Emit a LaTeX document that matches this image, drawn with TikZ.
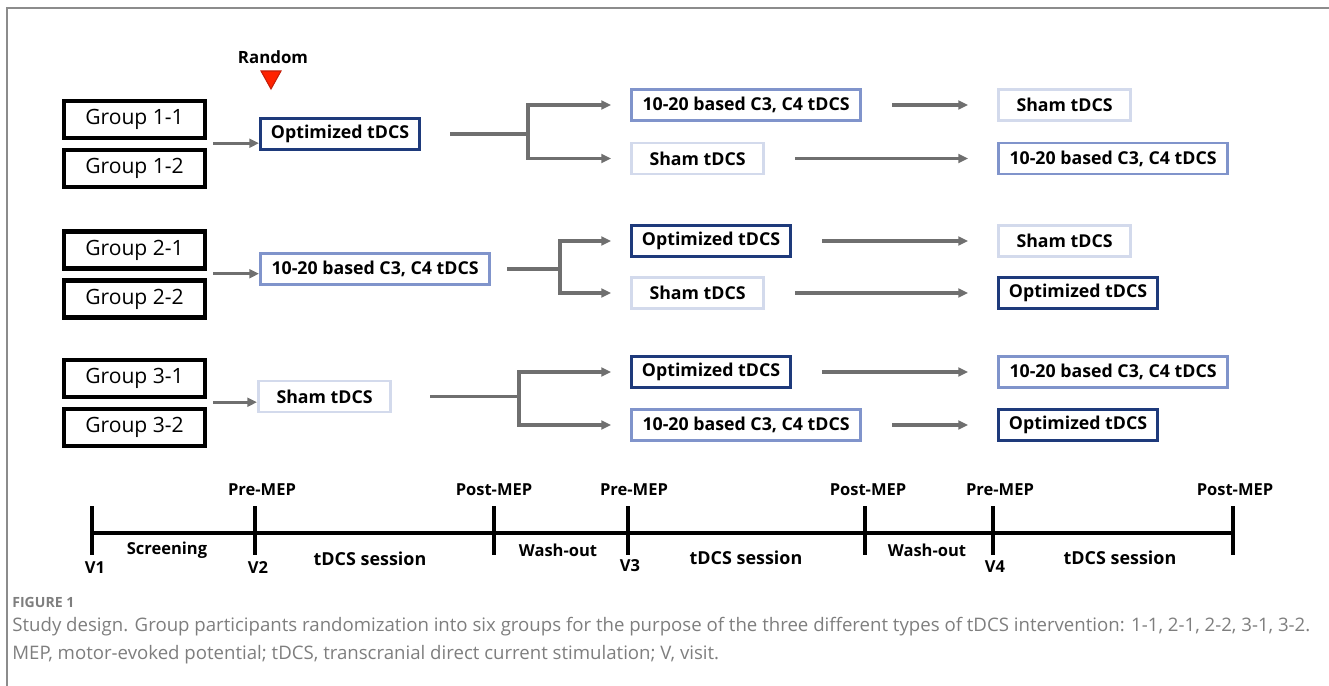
\documentclass[tikz,border=0pt]{standalone}
\usepackage{fontspec}
\setmainfont{Open Sans}
\newfontfamily\capfont{Open Sans}
\definecolor{sdNavy}{HTML}{1E3A7B}
\definecolor{sdMid}{HTML}{8094CB}
\definecolor{sdLight}{HTML}{D3DAEC}
\definecolor{sdArrow}{HTML}{6F6F6F}
\definecolor{sdFrame}{HTML}{8C8C8C}
\definecolor{sdCap}{HTML}{7E7E7E}
\definecolor{sdRed}{HTML}{FF2200}
\definecolor{sdRedDark}{HTML}{C41E0A}
\usetikzlibrary{calc,positioning,arrows.meta}

\begin{document}
\begin{tikzpicture}[x=0.02cm, y=-0.02cm,
  grp/.style={draw=black, line width=2.4pt, minimum width=2.82cm,
    minimum height=0.74cm, inner sep=0pt, font=\fontsize{12}{14}\selectfont},
  arm/.style={fill=white, line width=1.5pt, minimum height=0.62cm, inner sep=0pt,
    font=\fontsize{10.1}{12}\selectfont\bfseries},
  opt/.style={arm, draw=sdNavy, minimum width=3.19cm},
  ten/.style={arm, draw=sdMid, minimum width=4.59cm},
  sham/.style={arm, draw=sdLight, minimum width=2.65cm},
  ln/.style={line width=1.8pt, color=sdArrow},
  arr/.style={ln, -{Triangle[length=5.5pt,width=5pt]}},
  tl/.style={line width=1.8pt, color=black},
  tlbl/.style={font=\fontsize{9.4}{11}\selectfont\bfseries},
  seg/.style={font=\fontsize{10.2}{12}\selectfont\bfseries}
]
  \useasboundingbox (0,0) rectangle (1329,686);
  % Frame
  \draw[sdFrame, line width=1.1pt] (7,686) -- (7,8) -- (1329,8);
  % Randomisation mark
  \node[font=\fontsize{9.6}{12}\selectfont\bfseries] (rnd) at (273,57) {Random};
  \draw[fill=sdRed, draw=sdRedDark, line width=0.6pt] (261,71) -- (281,71) -- (271,89) -- cycle;
  % Groups
  \node[grp] (g11) at (134.5,119.5) {Group 1-1};
  \node[grp] (g12) at (134.5,168.5) {Group 1-2};
  \node[grp] (g21) at (134.5,250)   {Group 2-1};
  \node[grp] (g22) at (134.5,299)   {Group 2-2};
  \node[grp] (g31) at (134.5,378.5) {Group 3-1};
  \node[grp] (g32) at (134.5,427.5) {Group 3-2};
  % First session
  \node[opt,  anchor=west] (b1) at (259,134)   {Optimized tDCS};
  \node[ten,  anchor=west] (b2) at (259,269)   {10-20 based C3, C4 tDCS};
  \node[sham, anchor=west] (b3) at (257,396.5) {Sham tDCS};
  % Second session
  \node[ten,  anchor=west] (c1a) at (630,105)   {10-20 based C3, C4 tDCS};
  \node[sham, anchor=west] (c1b) at (630,158.5) {Sham tDCS};
  \node[opt,  anchor=west] (c2a) at (630,241)   {Optimized tDCS};
  \node[sham, anchor=west] (c2b) at (630,293)   {Sham tDCS};
  \node[opt,  anchor=west] (c3a) at (630,372)   {Optimized tDCS};
  \node[ten,  anchor=west] (c3b) at (630,425)   {10-20 based C3, C4 tDCS};
  % Third session
  \node[sham, anchor=west] (d1a) at (997,105)   {Sham tDCS};
  \node[ten,  anchor=west] (d1b) at (997,158.5) {10-20 based C3, C4 tDCS};
  \node[sham, anchor=west] (d2a) at (997,241)   {Sham tDCS};
  \node[opt,  anchor=west] (d2b) at (997,293)   {Optimized tDCS};
  \node[ten,  anchor=west] (d3a) at (997,372)   {10-20 based C3, C4 tDCS};
  \node[opt,  anchor=west] (d3b) at (997,425)   {Optimized tDCS};
  % Groups into first session
  \foreach \g/\b in {1/b1, 2/b2, 3/b3} {
    \coordinate (j\g) at ($(g\g1.south east)!0.4!(g\g2.north east)$);
    \draw[arr, shorten <=0.12cm] (j\g) -- (j\g -| \b.west);
  }
  % Forks
  \coordinate (f1) at (528,134);
  \coordinate (f2) at (560,269);
  \coordinate (f3) at (519,396.5);
  \draw[ln, shorten <=0.58cm] (b1.east) -- (f1);
  \draw[ln, shorten <=0.32cm] (b2.east) -- (f2);
  \draw[ln, shorten <=0.76cm] (b3.east) -- (f3);
  \foreach \r in {1,2,3} {
    \draw[arr, shorten >=0.38cm] (f\r) |- (c\r a.west);
    \draw[arr, shorten >=0.38cm] (f\r) |- (c\r b.west);
  }
  % Second into third session
  \foreach \s in {1a,1b,2a,2b,3a,3b}
    \draw[arr, shorten <=0.6cm, shorten >=0.58cm] (c\s.east) -- (d\s.west);
  % Timeline
  \draw[tl] (92,533) -- (1233,533);
  \foreach \x in {92,255,494,628,865,993,1233}
    \draw[tl] (\x,506) -- (\x,555);
  \node[tlbl] (pre1)  at (262,490)  {Pre-MEP};
  \node[tlbl] (post1) at (494,490)  {Post-MEP};
  \node[tlbl] (pre2)  at (634,490)  {Pre-MEP};
  \node[tlbl] (post2) at (868,490)  {Post-MEP};
  \node[tlbl] (pre3)  at (1000,490) {Pre-MEP};
  \node[tlbl] (post3) at (1235,490) {Post-MEP};
  \node[tlbl] (v1) at (95,568)  {V1};
  \node[tlbl] (v2) at (258,568) {V2};
  \node[tlbl] (v3) at (630,566) {V3};
  \node[tlbl] (v4) at (995,567) {V4};
  \node[tlbl] (scr) at (167,550)  {Screening};
  \node[seg]  (s1)  at (370,559)  {tDCS session};
  \node[tlbl] (w1)  at (558,550)  {Wash-out};
  \node[seg]  (s2)  at (746,558)  {tDCS session};
  \node[tlbl] (w2)  at (927,550)  {Wash-out};
  \node[seg]  (s3)  at (1120,558) {tDCS session};
  % Caption
  \node[anchor=west, inner sep=0pt, text=sdCap, font=\capfont\fontsize{8}{10}\selectfont\bfseries] (fig) at (12,602) {FIGURE 1};
  \node[anchor=west, inner sep=0pt, text=sdCap, font=\capfont\fontsize{10.6}{12}\selectfont] (cap1) at (12,627)
    {Study design. Group participants randomization into six groups for the purpose of the three different types of tDCS intervention: 1-1, 2-1, 2-2, 3-1, 3-2.};
  \node[anchor=west, inner sep=0pt, text=sdCap, font=\capfont\fontsize{10.6}{12}\selectfont] (cap2) at (12,655)
    {MEP, motor-evoked potential; tDCS, transcranial direct current stimulation; V, visit.};
\end{tikzpicture}
\end{document}
